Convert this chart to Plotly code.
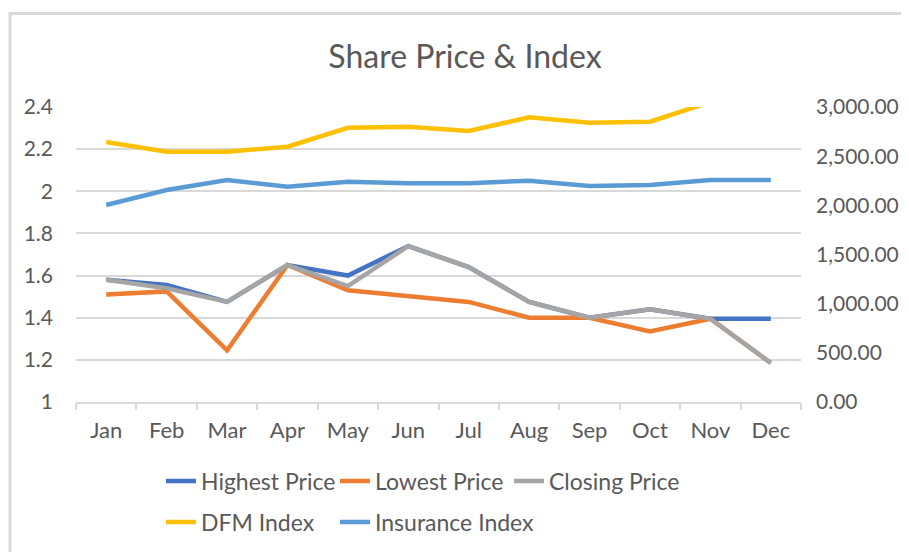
import plotly.graph_objects as go

months = ["Jan", "Feb", "Mar", "Apr", "May", "Jun", "Jul", "Aug", "Sep", "Oct", "Nov", "Dec"]
highest_price = [1.58, 1.555, 1.475, 1.65, 1.60, 1.74, 1.64, 1.475, 1.40, 1.44, 1.395, 1.395]
lowest_price = [1.51, 1.525, 1.245, 1.65, 1.53, 1.50, 1.475, 1.40, 1.40, 1.335, 1.395, 1.185]
closing_price = [1.58, 1.54, 1.475, 1.65, 1.55, 1.74, 1.64, 1.475, 1.40, 1.44, 1.395, 1.185]
dfm_index = [2645, 2545, 2545, 2596, 2789, 2800, 2756, 2895, 2841, 2851, 3050, 3100]
insurance_index = [2003, 2156, 2258, 2190, 2240, 2224, 2224, 2251, 2197, 2207, 2258, 2258]

left_ticks = [1, 1.2, 1.4, 1.6, 1.8, 2, 2.2, 2.4]
left_ticktext = ["1", "1.2", "1.4", "1.6", "1.8", "2", "2.2", "2.4"]
right_ticks = [0, 500, 1000, 1500, 2000, 2500, 3000]

FONT = "Lato"
TXT = "#595959"
LW = 4.5

# the page body adds an 8px offset; figure coords = page coords - 8
W, H = 901, 544
L, R, T, B = 68, 793, 99, 394
PW, PH = R - L, B - T


def px_x(x):
    return (x - 8 - L) / PW


def px_y(y):
    return (B - (y - 8)) / PH


fig = go.Figure()
fig.add_trace(go.Scatter(x=months, y=highest_price, name="Highest Price", mode="lines",
                         line=dict(color="#4472C4", width=LW), legend="legend"))
fig.add_trace(go.Scatter(x=months, y=lowest_price, name="Lowest Price", mode="lines",
                         line=dict(color="#ED7D31", width=LW), legend="legend"))
fig.add_trace(go.Scatter(x=months, y=closing_price, name="Closing Price", mode="lines",
                         line=dict(color="#A5A5A5", width=LW), legend="legend"))
fig.add_trace(go.Scatter(x=months, y=dfm_index, name="DFM Index", mode="lines", yaxis="y2",
                         line=dict(color="#FFC000", width=LW), legend="legend2"))
fig.add_trace(go.Scatter(x=months, y=insurance_index, name="Insurance Index", mode="lines", yaxis="y2",
                         line=dict(color="#5B9BD5", width=LW), legend="legend3"))

legend_common = dict(orientation="h", entrywidth=129, entrywidthmode="pixels",
                     font=dict(family=FONT, size=23, color=TXT), bgcolor="rgba(0,0,0,0)",
                     xanchor="left", yanchor="middle", tracegroupgap=0, itemclick=False)

fig.update_layout(
    width=W, height=H,
    margin=dict(l=L, r=W - R, t=T, b=H - B, autoexpand=False),
    paper_bgcolor="white", plot_bgcolor="white",
    title=dict(text="Share Price & Index", x=(465 - 8) / W, xanchor="center", y=1 - (57 - 8) / H,
               yanchor="middle", font=dict(family=FONT, size=32, color=TXT)),
    xaxis=dict(type="category", range=[-0.5, 11.5], showgrid=False, showline=True, linecolor="#D9D9D9",
               linewidth=1.5, ticks="outside", tickson="boundaries", ticklen=6, tickcolor="#D9D9D9",
               tickwidth=1.5, tickfont=dict(family=FONT, size=22, color=TXT), ticklabelstandoff=8,
               automargin=False),
    yaxis=dict(range=[1, 2.4], tickvals=left_ticks, ticktext=left_ticktext, showgrid=True,
               gridcolor="#D9D9D9", gridwidth=1.5, zeroline=False, showline=False, automargin=False,
               tickfont=dict(family=FONT, size=21, color=TXT), ticklabelstandoff=22),
    yaxis2=dict(range=[0, 3000], tickvals=right_ticks, tickformat=",.2f", overlaying="y", side="right",
                showgrid=False, zeroline=False, showline=False, automargin=False,
                tickfont=dict(family=FONT, size=21, color=TXT), ticklabelstandoff=14),
    legend=dict(x=px_x(161), y=px_y(481), **legend_common),
    legend2=dict(x=px_x(161), y=px_y(522), **legend_common),
    legend3=dict(x=px_x(335), y=px_y(522), **{**legend_common, "entrywidth": 0}),
    showlegend=True,
)

fig.add_shape(type="rect", xref="paper", yref="paper",
              x0=px_x(10), x1=px_x(930), y0=px_y(580), y1=px_y(13.5),
              line=dict(color="#D9D9D9", width=3), fillcolor="rgba(0,0,0,0)", layer="below")

fig.write_html("out.html")
